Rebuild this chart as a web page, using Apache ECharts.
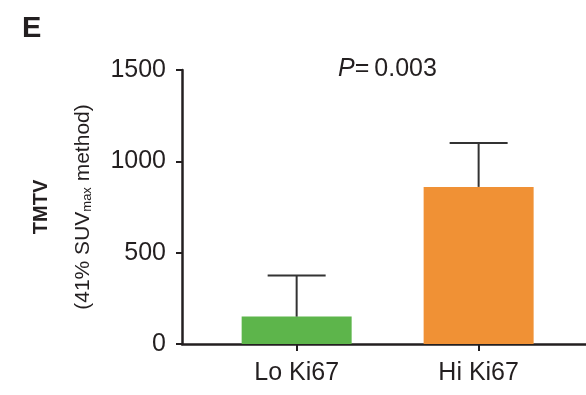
<!DOCTYPE html>
<html>
<head>
<meta charset="utf-8">
<script src="https://cdn.jsdelivr.net/npm/echarts@6/dist/echarts.min.js"></script>
<style>html,body{margin:0;padding:0;background:#fff}#c{width:586px;height:395px}</style>
</head>
<body>
<div id="c"></div>
<script>
// Data
var categories = ['Lo Ki67', 'Hi Ki67'];
var means = [150, 860];
var upperErr = [375, 1100];
var yTicks = [0, 500, 1000, 1500];
var barColors = ['#5db54b', '#f09135'];

var FONT = '"Liberation Sans", Arial, Helvetica, sans-serif';
var TXT = '#231f20';

var chart = echarts.init(document.getElementById('c'), null, {renderer: 'canvas'});

var barData = categories.map(function (c, i) {
  return {value: [i, means[i]], itemStyle: {color: barColors[i]}};
});
var errData = categories.map(function (c, i) {
  return [i, means[i], upperErr[i]];
});

chart.setOption({
  animation: false,
  backgroundColor: '#fff',
  title: [
    {
      text: 'E', left: 17, top: 9,
      textStyle: {fontFamily: FONT, fontWeight: 'bold', fontSize: 29, color: '#231f20'}
    },
    {
      text: '{i|P}{n|=\u20090.003}', left: 333, top: 52,
      textStyle: {
        fontWeight: 'normal',
        rich: {
          i: {fontFamily: FONT, fontStyle: 'italic', fontWeight: 'normal', fontSize: 25, color: TXT},
          n: {fontFamily: FONT, fontWeight: 'normal', fontSize: 25, color: TXT}
        }
      }
    }
  ],
  grid: {left: 182, right: 0, top: 70, bottom: 51},
  xAxis: {
    type: 'value',
    min: -0.63, max: 1.59,
    splitLine: {show: false},
    axisLine: {lineStyle: {color: '#231f20', width: 2.5}},
    axisTick: {show: true, length: 7, customValues: [0, 1], lineStyle: {color: '#231f20', width: 2}},
    axisLabel: {
      customValues: [0, 1], margin: 17,
      fontFamily: FONT, fontSize: 25, color: TXT,
      formatter: function (v) { return categories[Math.round(v)]; }
    }
  },
  yAxis: {
    type: 'value',
    min: yTicks[0], max: yTicks[yTicks.length - 1], interval: yTicks[1] - yTicks[0],
    splitLine: {show: false},
    axisLine: {show: true, onZero: false, lineStyle: {color: '#231f20', width: 2.5}},
    axisTick: {show: true, length: 6, lineStyle: {color: '#231f20', width: 2}},
    axisLabel: {
      margin: 16, fontFamily: FONT, fontSize: 25, color: TXT,
      formatter: function (v) { return String(v); }
    },
    name: '{t|TMTV}\n{n|(41% SUV}{s|max}{n| method)}',
    nameLocation: 'middle',
    nameRotate: 90,
    nameGap: 86,
    nameTextStyle: {
      rich: {
        t: {fontFamily: FONT, fontWeight: 'bold', fontSize: 20, lineHeight: 58, color: TXT},
        n: {fontFamily: FONT, fontSize: 21, lineHeight: 26, color: TXT},
        s: {fontFamily: FONT, fontSize: 13, lineHeight: 14, padding: [9, 0, 0, 0], color: TXT}
      }
    }
  },
  series: [
    {
      type: 'bar',
      data: barData,
      barWidth: 110,
      z: 2
    },
    {
      type: 'custom',
      data: errData,
      z: 3,
      renderItem: function (params, api) {
        var base = api.coord([api.value(0), api.value(1)]);
        var top = api.coord([api.value(0), api.value(2)]);
        var half = 29;
        var style = {stroke: '#333333', lineWidth: 2};
        return {
          type: 'group',
          children: [
            {type: 'line', shape: {x1: base[0], y1: base[1], x2: top[0], y2: top[1]}, style: style},
            {type: 'line', shape: {x1: top[0] - half, y1: top[1], x2: top[0] + half, y2: top[1]}, style: style}
          ]
        };
      }
    }
  ]
});
</script>
</body>
</html>
